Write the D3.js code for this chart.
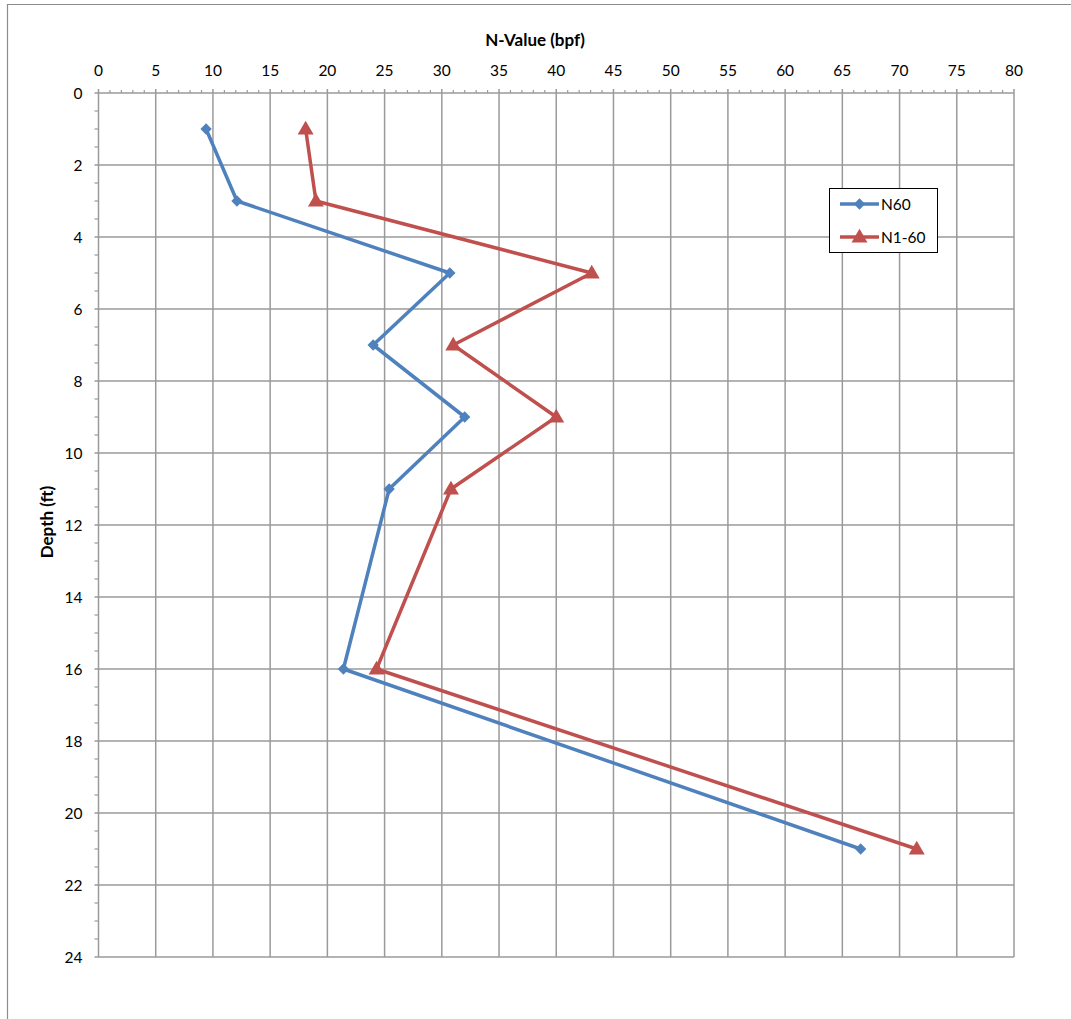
<!DOCTYPE html>
<html><head><meta charset="utf-8">
<script src="https://cdn.jsdelivr.net/npm/d3@7/dist/d3.min.js"></script>
<style>
body{margin:0;background:#fff;}
text{font-family:Lato,"Open Sans",sans-serif;}
</style></head>
<body><svg id="c" width="1071" height="1019"></svg>
<script>
const depths = [1, 3, 5, 7, 9, 11, 16, 21];
const n60 = [9.4, 12.1, 30.7, 24.0, 32.0, 25.4, 21.4, 66.6];
const n160 = [18.1, 19.0, 43.1, 31.0, 40.0, 30.8, 24.3, 71.5];
const xTicks = d3.range(0, 81, 5);
const yTicks = d3.range(0, 25, 2);
const seriesNames = ["N60", "N1-60"];
const xTitle = "N-Value (bpf)";
const yTitle = "Depth (ft)";

const svg = d3.select("#c");
const L = 98.5, R = 1014, T = 93, B = 957;
const x = d3.scaleLinear().domain([0, 80]).range([L, R]);
const y = d3.scaleLinear().domain([0, 24]).range([T, B]);
const grid = "#9a9a9a";

// outer border
svg.append("path").attr("d", "M7.5,1019 V4.5 H1071").attr("fill","none").attr("stroke","#8c8c8c").attr("stroke-width",1.2);

// gridlines
svg.append("g").selectAll("line").data(xTicks).join("line")
  .attr("x1", d=>x(d)).attr("x2", d=>x(d)).attr("y1", T-4).attr("y2", B)
  .attr("stroke", grid).attr("stroke-width", 1.5);
svg.append("g").selectAll("line").data(yTicks).join("line")
  .attr("x1", L-4).attr("x2", R).attr("y1", d=>y(d)).attr("y2", d=>y(d))
  .attr("stroke", grid).attr("stroke-width", 1.5);
// minor ticks
svg.append("g").selectAll("line").data(d3.range(0, 81, 1).filter(d=>d%5)).join("line")
  .attr("x1", d=>x(d)).attr("x2", d=>x(d)).attr("y1", T-3).attr("y2", T)
  .attr("stroke", grid).attr("stroke-width", 1.2);
svg.append("g").selectAll("line").data(d3.range(0, 24.01, 0.5).filter(d=>d%2)).join("line")
  .attr("x1", L-4).attr("x2", L).attr("y1", d=>y(d)).attr("y2", d=>y(d))
  .attr("stroke", grid).attr("stroke-width", 1.2);

// tick labels
svg.append("g").selectAll("text").data(xTicks).join("text")
  .attr("x", d=>x(d)).attr("y", 76).attr("text-anchor","middle")
  .attr("font-size", 15.5).attr("fill","#000").text(d=>d);
svg.append("g").selectAll("text").data(yTicks).join("text")
  .attr("x", L-16).attr("y", d=>y(d)+5.5).attr("text-anchor","end")
  .attr("font-size", 15.5).attr("fill","#000").text(d=>d);

// titles
svg.append("text").attr("x", 535).attr("y", 46).attr("text-anchor","middle")
  .attr("font-size", 17).attr("font-weight","bold").text(xTitle);
svg.append("text").attr("transform", `translate(53,522) rotate(-90)`)
  .attr("text-anchor","middle").attr("font-size", 17).attr("font-weight","bold").text(yTitle);

const colors = ["#4F81BD", "#C0504D"];
const data = [n60, n160];
const line = d3.line().x(d=>x(d[0])).y(d=>y(d[1]));
const tri = d3.symbol().type(d3.symbolTriangle).size(110);
const sq = d3.symbol().type(d3.symbolSquare).size(64);

data.forEach((vals, i) => {
  const pts = vals.map((v, j) => [v, depths[j]]);
  svg.append("path").datum(pts).attr("d", line).attr("fill","none")
    .attr("stroke", colors[i]).attr("stroke-width", 3.5).attr("stroke-linejoin","round");
  svg.append("g").selectAll("path").data(pts).join("path")
    .attr("d", i===0 ? sq() : tri())
    .attr("transform", d=> i===0 ? `translate(${x(d[0])},${y(d[1])}) rotate(45)` : `translate(${x(d[0])},${y(d[1])+1})`)
    .attr("fill", colors[i]);
});

// legend
const lg = svg.append("g");
lg.append("rect").attr("x", 829.5).attr("y", 188.5).attr("width", 108).attr("height", 64)
  .attr("fill","#fff").attr("stroke","#000").attr("stroke-width",1);
seriesNames.forEach((nm, i) => {
  const yy = 204 + i*33;
  lg.append("line").attr("x1", 840).attr("x2", 879).attr("y1", yy).attr("y2", yy)
    .attr("stroke", colors[i]).attr("stroke-width", 3.5);
  lg.append("path").attr("d", i===0 ? sq() : tri())
    .attr("transform", i===0 ? `translate(859.5,${yy}) rotate(45)` : `translate(859.5,${yy+1})`)
    .attr("fill", colors[i]);
  lg.append("text").attr("x", 881).attr("y", yy+5.5).attr("font-size", 15.5).text(nm);
});
</script></body></html>
